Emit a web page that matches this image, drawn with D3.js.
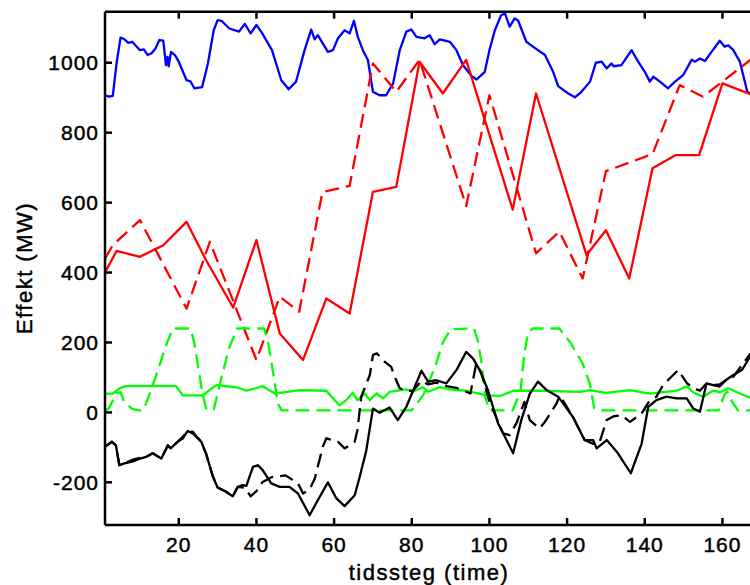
<!DOCTYPE html>
<html>
<head>
<meta charset="utf-8">
<title>Effekt</title>
<script src="https://d3js.org/d3.v7.min.js"></script>
<style>
  body { margin: 0; background: #fff; }
  text { font-family: "Liberation Sans", Arial, sans-serif; fill: #000; stroke: #000; stroke-width: 0.45px; }
</style>
</head>
<body>
<script>
// time steps (x) and effect in MW (y)
var blue = [[1,907],[2,903],[3,905],[4,1000],[5,1072],[6,1067],[7,1057],[8,1060],[10,1036],[11,1038],[12,1022],[13,1027],[14,1041],[15,1065],[16,1063],[16.7,993],[17.1,1017],[17.4,990],[18,1031],[19,1022],[20,1003],[22,950],[23,947],[24,927],[26,930],[27.5,998],[29,1093],[30,1122],[31,1120],[33,1098],[35.5,1089],[37,1111],[38.5,1084],[40,1108],[41.5,1084],[44,1036],[46.4,950],[48.3,924],[50.2,946],[52.4,1036],[54.1,1095],[55,1067],[55.8,1079],[58.4,1031],[59.7,1036],[61,1070],[62.7,1093],[64,1084],[65.1,1120],[66.1,1074],[67.4,1036],[68.7,1008],[70,917],[71.7,907],[73.4,907],[75.2,941],[76.9,1036],[78.6,1089],[79.9,1095],[81.2,1074],[83.3,1070],[84.6,1079],[85.9,1053],[87.2,1067],[89.8,1060],[91.5,1036],[93.2,993],[95.4,962],[96.7,952],[98.8,974],[100,1036],[101.4,1093],[103,1136],[104,1141],[105.2,1103],[106.5,1127],[107.4,1120],[109.5,1060],[111.2,1046],[114.3,1022],[116.4,974],[117.7,933],[120.3,912],[122,901],[123.7,917],[125.9,946],[127.4,1000],[128.9,1003],[130.2,984],[131.4,998],[132,990],[134,993],[136.6,1036],[138.3,1003],[140,974],[141.3,946],[142.2,960],[143.9,946],[146,927],[147.8,946],[149.9,965],[152.1,1009],[152.9,1003],[154.2,1012],[155.5,1005],[157.2,1031],[159.3,1063],[160.6,1046],[161.5,1050],[162.8,1036],[164.5,1003],[166.4,917],[168,905]];

var redSolid = [[1,400],[4,462],[10,445],[16,478],[22,545],[27,436],[34,300],[40,493],[46,226],[52,150],[58,326],[64,283],[70,631],[76,645],[82,1003],[88,912],[94,1008],[106,580],[112,912],[125,450],[130,521],[136,383],[142,698],[148,736],[154,736],[160,941],[168,907]];

var redDashed = [[1,440],[3,478],[10,550],[22,297],[28,488],[40,150],[46,331],[51,288],[57,630],[64,648],[70,998],[76,917],[82,1008],[94,590],[100,907],[112,455],[118,517],[124,383],[130,690],[142,739],[149,936],[155,903],[168,1015]];

var greenSolid = [[1,54],[3,54],[5,70],[6.4,75],[19.3,75],[21,49],[26.2,49],[29.6,78],[34.8,72],[37.4,62],[39.5,68],[41.6,75],[44.7,54],[51.1,64],[58,62],[61.4,20],[63.1,35],[64.8,56],[66,35],[67.9,54],[69.2,35],[70.9,54],[72.6,40],[74.3,59],[78.6,66],[80.3,59],[82.9,72],[84.2,59],[87.2,72],[89.8,66],[94,62],[99.2,49],[102.7,47],[104.4,54],[106.1,62],[113,62],[123.3,59],[125.9,64],[129.9,56],[136.2,64],[141.3,54],[148.2,62],[150.8,75],[152.5,57],[155,45],[157.6,62],[159.3,57],[161.5,69],[164.5,54],[168,38]];

var greenDashed = [[1,5],[2,12],[4,55],[5,58],[6,28],[8,10],[10,5],[11,8],[14,100],[17,200],[18.5,240],[23,240],[24,200],[26,60],[27,12],[28,5],[29,8],[31,100],[33,185],[35,240],[42,240],[43,200],[44.5,100],[45.5,25],[46.5,6],[80,6],[83,50],[86,130],[88,200],[90,238],[96,240],[97,205],[98,140],[99,40],[100,6],[106,6],[108,60],[109,170],[110,230],[111.2,240],[118,240],[121,197],[124,140],[125.9,80],[127,12],[128,6],[159,6],[160.5,50],[161.2,60],[162.5,30],[164,6],[168,6]];

var blackSolid = [[1,-98],[2.8,-84],[3.8,-94],[4.7,-151],[6,-146],[8,-141],[10,-132],[11.6,-127],[13.3,-117],[15.5,-132],[17.2,-94],[17.9,-103],[19.7,-84],[21,-75],[22.3,-53],[23.6,-60],[24.5,-70],[25.8,-84],[27,-117],[28.8,-184],[30,-215],[32.2,-227],[33.9,-240],[35.2,-213],[36.5,-208],[37.4,-210],[39.1,-156],[40.4,-151],[41.6,-165],[43.8,-203],[46,-213],[48.5,-213],[50.7,-232],[53.7,-294],[55.8,-251],[58.4,-200],[60.6,-246],[62.7,-268],[65.3,-237],[66.6,-184],[68.3,-108],[70,11],[71.7,-1],[74.3,14],[76.4,-22],[78.6,16],[82.5,119],[84.2,88],[86.3,92],[88.9,83],[91.5,121],[94,173],[95.8,154],[97.5,121],[99.6,64],[102.2,-31],[104.4,-79],[106.1,-117],[108.2,-22],[110.4,54],[112.5,88],[114.7,64],[117.7,45],[121.5,-13],[124.5,-79],[126.7,-79],[127.6,-103],[130.2,-79],[133.1,-117],[136.4,-174],[139.2,-89],[140.9,16],[143,35],[145.6,45],[148.2,40],[150.8,40],[152.5,11],[154.2,2],[155.9,83],[157.6,78],[159.3,74],[161.1,94],[162.8,107],[165,121],[168,175]];

var blackDashed = [[1,-98],[2.8,-84],[3.8,-94],[4.7,-151],[6,-146],[8,-136],[10,-130],[11.6,-127],[13.3,-117],[15.5,-132],[17.2,-94],[17.9,-103],[19.7,-84],[21,-70],[22.3,-55],[23.6,-55],[24.5,-68],[25.8,-84],[27,-117],[28.8,-184],[30,-215],[32.2,-227],[33.9,-240],[35.2,-213],[37,-215],[38.5,-240],[40,-225],[41.5,-200],[44,-185],[47.5,-180],[50.7,-203],[52,-232],[53.7,-220],[55,-190],[57.1,-98],[58,-74],[61,-84],[62.7,-103],[65.3,-84],[66,-51],[67,45],[69.2,107],[70,164],[71,169],[73,145],[74.7,130],[75.6,102],[76.9,69],[78.6,62],[80.3,62],[82.5,90],[84.2,80],[86.3,85],[88.9,75],[91.5,70],[93.5,62],[95.1,54],[96.6,140],[98,110],[100,30],[102,-20],[103.5,-60],[105.2,-65],[107,-30],[109,30],[110.4,-22],[112.9,-46],[114.3,-27],[117.3,26],[118.1,49],[121.5,-13],[124.5,-79],[126.7,-90],[128.4,-84],[130.2,-22],[132,-11],[134,-8],[136.2,-27],[139.2,-3],[140.9,28],[143,45],[144.7,78],[146.4,97],[148.6,121],[150.9,83],[152.5,70],[154.2,62],[155.9,83],[157.6,78],[159.3,80],[161.1,94],[162.8,102],[165,135],[168,180]];

var xTicks = [20, 40, 60, 80, 100, 120, 140, 160];
var yTicks = [-200, 0, 200, 400, 600, 800, 1000];

var width = 750, height = 585;
var plotLeft = 105, plotRight = 753.5, plotTop = 11.7, plotBottom = 525;

var svg = d3.select("body").append("svg")
    .attr("width", width)
    .attr("height", height);

var x = d3.scaleLinear().domain([1, 168]).range([plotLeft, plotRight]);
var y = d3.scaleLinear().domain([-322, 1146]).range([plotBottom, plotTop]);

svg.append("clipPath").attr("id", "plot")
  .append("rect")
    .attr("x", plotLeft).attr("y", plotTop)
    .attr("width", plotRight - plotLeft).attr("height", plotBottom - plotTop);

var line = d3.line()
    .x(function(d) { return x(d[0]); })
    .y(function(d) { return y(d[1]); });

var lines = svg.append("g").attr("clip-path", "url(#plot)");

function drawLine(data, color, dashed) {
  lines.append("path")
    .attr("d", line(data))
    .attr("fill", "none")
    .attr("stroke", color)
    .attr("stroke-width", 2.3)
    .attr("stroke-linejoin", "round")
    .attr("stroke-dasharray", dashed ? "14,7" : null);
}

drawLine(blue, "#0000ff", false);
drawLine(redSolid, "#ff0000", false);
drawLine(redDashed, "#ff0000", true);
drawLine(greenSolid, "#00ff00", false);
drawLine(greenDashed, "#00ff00", true);
drawLine(blackSolid, "#000000", false);
drawLine(blackDashed, "#000000", true);

// axes, matlab style: box with inward ticks
var ax = svg.append("g").attr("stroke", "#000").attr("stroke-width", 2.5);
ax.append("line").attr("x1", plotLeft).attr("x2", plotLeft).attr("y1", plotTop).attr("y2", plotBottom);
ax.append("line").attr("x1", plotLeft).attr("x2", plotRight).attr("y1", plotBottom).attr("y2", plotBottom);
ax.append("line").attr("x1", plotLeft).attr("x2", plotRight).attr("y1", plotTop).attr("y2", plotTop);
ax.append("line").attr("x1", plotRight).attr("x2", plotRight).attr("y1", plotTop).attr("y2", plotBottom);

xTicks.forEach(function(t) {
  ax.append("line").attr("x1", x(t)).attr("x2", x(t)).attr("y1", plotBottom).attr("y2", plotBottom - 7);
  ax.append("line").attr("x1", x(t)).attr("x2", x(t)).attr("y1", plotTop).attr("y2", plotTop + 7);
  svg.append("text")
    .attr("x", x(t)).attr("y", 552)
    .attr("text-anchor", "middle")
    .style("font-size", "21px").style("letter-spacing", "1px")
    .text(t);
});

yTicks.forEach(function(t) {
  ax.append("line").attr("x1", plotLeft).attr("x2", plotLeft + 7).attr("y1", y(t)).attr("y2", y(t));
  svg.append("text")
    .attr("x", 99).attr("y", y(t) + 7.5)
    .attr("text-anchor", "end")
    .style("font-size", "21px").style("letter-spacing", "1px")
    .text(t);
});

svg.append("text")
  .attr("transform", "translate(32,268) rotate(-90)")
  .attr("text-anchor", "middle")
  .style("font-size", "22px").style("letter-spacing", "1.5px")
  .text("Effekt (MW)");

svg.append("text")
  .attr("x", 429).attr("y", 580)
  .attr("text-anchor", "middle")
  .style("font-size", "22px").style("letter-spacing", "1.5px")
  .text("tidssteg (time)");
</script>
</body>
</html>
